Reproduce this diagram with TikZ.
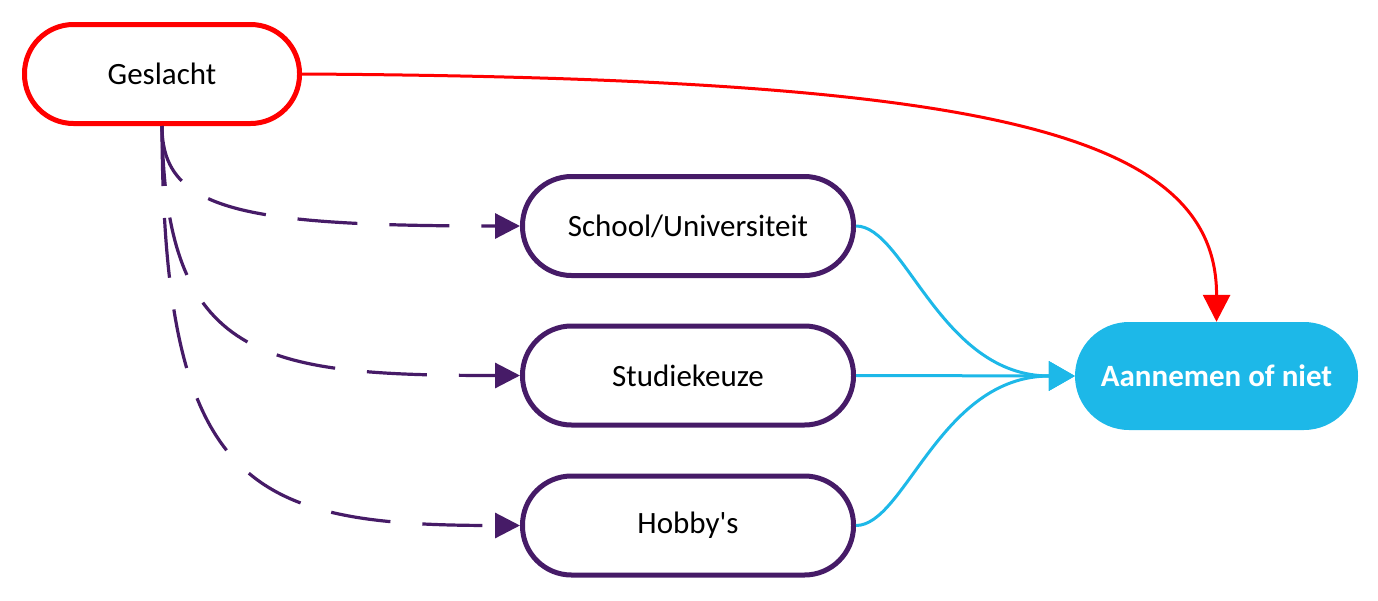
\documentclass[tikz,border=0pt]{standalone}
\usepackage{fontspec}
\newfontfamily\calfont{Carlito}
\usetikzlibrary{arrows.meta}
\definecolor{myred}{HTML}{FF0000}
\definecolor{mypurple}{HTML}{461B67}
\definecolor{mycyan}{HTML}{1DB8E8}
\tikzset{
  redbox/.style={draw=myred, line width=5pt, rounded corners=49pt, minimum width=275pt, minimum height=99pt, inner sep=0pt, fill=white, font=\calfont\fontsize{31}{37}\selectfont},
  purplebox/.style={draw=mypurple, line width=5pt, rounded corners=49pt, minimum width=331pt, minimum height=99pt, inner sep=0pt, fill=white, font=\calfont\fontsize{31}{37}\selectfont},
  cyanbox/.style={fill=mycyan, draw=none, rounded corners=54pt, minimum width=283pt, minimum height=108pt, inner sep=0pt, text=white, font=\calfont\bfseries\fontsize{31}{37}\selectfont},
  redline/.style={draw=myred, line width=3pt, -{Triangle[length=27pt,width=27pt]}},
  purpleline/.style={draw=mypurple, line width=3.2pt, dash pattern=on 60pt off 32pt, -{Triangle[length=25pt,width=25pt]}},
  cyanline/.style={draw=mycyan, line width=3pt, -{Triangle[length=26pt,width=29pt]}}
}
\begin{document}
\begin{tikzpicture}[x=1pt,y=-1pt]
\useasboundingbox (0,0) rectangle (1378,600);
\node[redbox] (g) at (162,74) {Geslacht};
\node[purplebox] (s) at (688,226) {School/Universiteit};
\node[purplebox] (k) at (688,375.5) {Studiekeuze};
\node[purplebox] (h) at (688,525.5) {Hobby's};
\node[cyanbox] (a) at (1216.5,376) {Aannemen of niet};
\draw[redline] (g.east) .. controls (980,78) and (1217,130) .. (a.north);
\draw[purpleline] (g.south) .. controls (162,210) and (240,226) .. (s.west);
\draw[purpleline] (g.south) .. controls (165,360) and (260,375.5) .. (k.west);
\draw[purpleline] (g.south) .. controls (163,490) and (250,525.5) .. (h.west);
\draw[cyanline] (s.east) .. controls (905,226) and (940,376) .. (a.west);
\draw[cyanline] (k.east) -- (a.west);
\draw[cyanline] (h.east) .. controls (905,525.5) and (940,376) .. (a.west);
\end{tikzpicture}
\end{document}
